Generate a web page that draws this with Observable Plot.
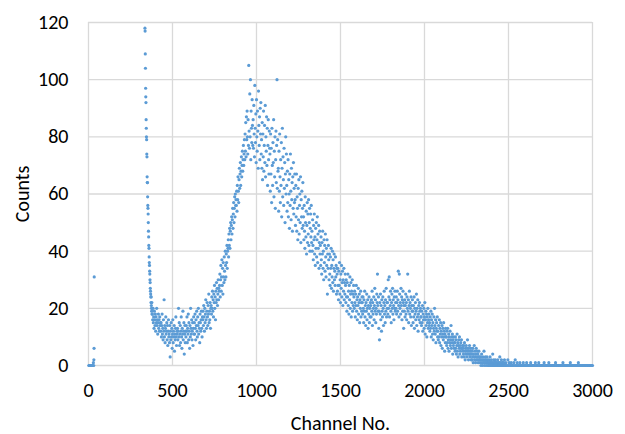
<!DOCTYPE html>
<html>
<head>
<meta charset="utf-8">
<script src="https://cdn.jsdelivr.net/npm/d3@7"></script>
<script src="https://cdn.jsdelivr.net/npm/@observablehq/plot@0.6"></script>
<style>
  html, body { margin: 0; padding: 0; background: #fff; }
  #chart { width: 625px; height: 434px; }
</style>
</head>
<body>
<div id="chart"></div>
<script>
// Pulse-height spectrum: counts per MCA channel.

// Lowest channels (noise pedestal)
const lowChannels = [2, 5, 8, 11, 14, 17, 20, 23, 26, 29, 31, 32, 33, 34];
const lowCounts   = [0, 0, 0, 0, 0, 0, 0, 0, 0, 1, 0, 2, 6, 31];

// Threshold edge, one channel per value starting at channel 336
const edgeStart = 336;
const edgeCounts = [
  118,117,109,104,97,94,92,86,83,80,79,74,73,66,64,64,59,56,55,53,
  50,47,45,42,41,38,36,35,33,32,30,29,27,26,25,24,22,24,21,20,
  19,22,18,20
];

// Valley and rising edge, every 2nd channel from 380
const valleyStart = 380;
const valleyCounts = [
  18,16,20,15,17,13,19,16,14,18,12,17,15,20,14,16,11,15,18,13,16,12,17,14,15,
  12,15,10,14,18,11,13,9,16,12,23,10,14,8,13,17,11,12,15,9,14,7,12,16,10,
  11,8,14,3,12,9,15,10,13,6,11,16,8,12,10,14,5,11,9,13,17,10,7,12,11,
  13,9,12,20,10,15,7,11,14,8,12,17,10,6,13,11,19,9,12,15,4,11,14,8,12,
  10,14,12,17,8,13,11,18,9,15,12,6,14,10,20,13,11,16,9,12,15,7,13,17,11,
  15,11,18,13,9,16,14,19,12,10,17,14,20,11,15,13,8,18,15,12,16,19,13,10,17,
  16,19,14,21,17,12,20,15,18,23,16,13,19,22,17,14,21,18,25,15,19,16,22,13,20,
  21,18,24,20,26,19,23,17,25,22,28,20,24,16,26,22,29,23,27,21,25,30,23,27,26
];

// Main peak and its falling side, every 2nd channel from 780
const peakStart = 780;
const peakCounts = [
  28,32,24,30,35,26,31,37,28,34,25,36,31,29,38,33,30,40,35,31,39,36,42,34,40,
  41,44,38,46,42,48,41,47,50,44,49,52,46,51,55,48,53,57,50,55,59,52,60,56,58,
  56,61,54,63,58,66,61,57,65,69,62,67,71,63,68,73,66,70,75,68,72,77,70,74,79,
  72,81,75,85,73,87,79,89,80,74,86,77,105,82,76,95,80,100,72,89,83,78,93,84,77,
  86,76,91,81,73,98,83,78,88,71,93,80,75,89,82,69,96,84,77,87,72,90,81,92,74,
  79,69,85,65,81,73,89,68,77,84,71,91,66,80,75,87,70,83,63,77,86,72,67,82,76,
  74,61,81,67,76,57,83,70,63,78,71,86,59,75,66,80,55,72,82,64,77,100,62,79,68,
  69,54,75,61,81,66,57,72,63,78,52,69,83,59,73,65,56,76,62,71,50,67,80,60,74,
  63,54,68,57,72,52,65,60,48,67,56,74,61,51,69,58,64,47,66,55,71,53,62,57,67,
  58,49,63,52,67,47,59,55,44,62,51,65,46,56,60,50,66,43,58,52,61,48,55,64,49,
  52,44,56,47,41,59,50,45,54,39,49,57,43,53,46,58,42,50,55,40,48,53,45,56,43,
  47,40,51,42,37,49,44,53,39,45,35,48,41,50,38,44,52,36,46,41,49,34,43,47,39,
  42,35,45,37,32,43,39,47,34,40,30,44,36,42,33,46,38,31,41,35,44,25,39,34,42,
  37,30,39,32,28,38,34,41,27,35,31,40,29,37,26,34,39,30,33,28,38,31,35,25,34,
  32,26,34,28,23,33,28,36,25,30,22,32,27,35,24,29,33,21,30,26,34,23,29,25,32,
  28,22,30,24,19,29,24,32,21,26,18,28,23,31,20,25,29,17,26,22,30,19,25,21,28
];

// Shoulder and fall-off, every 2nd channel from 1580
const shoulderStart = 1580;
const shoulderCounts = [
  24,20,26,22,17,25,21,28,19,23,16,24,21,27,18,22,25,15,23,20,26,17,22,19,24,
  22,18,24,20,15,23,19,26,17,21,14,22,19,25,16,20,23,13,21,18,24,15,20,17,22,
  21,17,23,19,26,14,22,18,20,24,16,21,27,19,23,15,20,18,25,22,32,21,19,24,13,
  19,9,22,18,25,16,21,12,23,19,17,24,20,14,22,26,18,21,15,23,19,27,17,22,20,
  22,18,30,20,24,31,17,23,21,26,19,15,22,25,20,27,18,23,21,16,24,20,26,19,22,
  20,24,18,22,26,19,23,33,21,17,32,25,20,22,18,27,21,24,16,23,19,26,22,13,21,
  19,23,17,21,25,18,22,16,24,20,32,19,23,15,21,26,18,22,20,17,24,14,21,19,23,
  19,15,21,17,24,13,20,18,22,16,19,25,14,20,17,23,12,18,21,16,22,19,15,20,17,
  17,14,19,15,21,12,18,16,20,13,17,22,11,16,19,14,18,10,17,15,20,13,16,18,14,
  15,12,17,13,19,10,16,14,18,11,15,9,13,17,12,20,14,11,16,8,13,15,12,17,10,
  12,9,14,10,16,8,13,11,15,7,12,10,14,6,11,13,9,15,10,12,5,11,8,13,10,
  10,7,12,8,13,6,9,11,5,10,8,12,7,9,14,6,10,8,11,4,9,7,10,6,8,
  8,5,10,6,9,4,7,11,5,8,3,7,9,6,10,4,7,5,8,6,9,3,6,7,5,
  6,4,7,3,8,5,2,6,4,7,5,3,6,9,4,5,2,6,4,7,3,5,4,6,2,
  4,2,5,3,6,1,4,3,7,2,5,3,1,4,6,2,3,5,2,4,1,3,5,2,3,
  2,1,3,0,2,4,1,2,0,3,1,2,5,1,0,2,3,1,2,0,1,3,1,2,0,
  1,0,2,1,0,3,1,0,1,2,0,1,0,4,1,0,2,0,1,0,1,2,0,1,0,
  0,1,0,2,0,1,0,0,1,3,0,1,0,0,2,0,1,0,1,0,0,1,0,2,0
];

// Tail, every 4th channel from 2480 to 3000
const tailStart = 2480;
const tailCounts = [
  0,1,0,0,2,0,1,0,0,1,0,0,0,1,0,2,0,0,1,0,0,0,1,0,0,0,0,1,0,0,
  0,0,1,0,0,0,0,0,1,0,0,0,0,0,0,1,0,0,0,0,1,0,0,0,0,0,0,0,1,0,
  0,0,0,0,0,1,0,0,0,0,0,0,0,0,0,1,0,0,0,0,0,0,0,0,0,0,1,0,0,0,
  0,0,0,0,0,0,0,1,0,0,0,0,0,0,0,0,0,0,0,1,0,0,0,0,0,0,0,0,0,0,
  0,0,0,0,0,0,0,0,0,0,0
];

const xTicks = [0, 500, 1000, 1500, 2000, 2500, 3000];
const yTicks = [0, 20, 40, 60, 80, 100, 120];

// Assemble one row per plotted channel
const points = [];
lowChannels.forEach((c, i) => points.push({channel: c, counts: lowCounts[i]}));
const addRun = (start, step, values) =>
  values.forEach((v, i) => points.push({channel: start + i * step, counts: v}));
addRun(edgeStart, 1, edgeCounts);
addRun(valleyStart, 2, valleyCounts);
addRun(peakStart, 2, peakCounts);
addRun(shoulderStart, 2, shoulderCounts);
addRun(tailStart, 4, tailCounts);

const gridStyle = {stroke: "#d9d9d9", strokeOpacity: 1, strokeWidth: 1.3};
const plain = (d) => String(d);

const chart = Plot.plot({
  width: 625,
  height: 434,
  marginLeft: 88,
  marginRight: 33,
  marginTop: 22,
  marginBottom: 69,
  style: {fontFamily: "Carlito, Lato, sans-serif", fontSize: "20px", color: "#000", background: "#fff"},
  x: {domain: [0, 3000]},
  y: {domain: [0, 120]},
  marks: [
    Plot.gridX(xTicks, gridStyle),
    Plot.gridY(yTicks, gridStyle),
    Plot.dot(points, {x: "channel", y: "counts", r: 1.6, fill: "#5b9bd5"}),
    Plot.axisX(xTicks, {
      tickSize: 0, tickPadding: 17, tickFormat: plain,
      label: "Channel No.", labelAnchor: "center", labelArrow: "none", labelOffset: 64
    }),
    Plot.axisY(yTicks, {
      tickSize: 0, tickPadding: 20, tickFormat: plain,
      label: "Counts", labelAnchor: "center", labelArrow: "none", labelOffset: 74
    })
  ]
});

document.getElementById("chart").append(chart);
</script>
</body>
</html>
